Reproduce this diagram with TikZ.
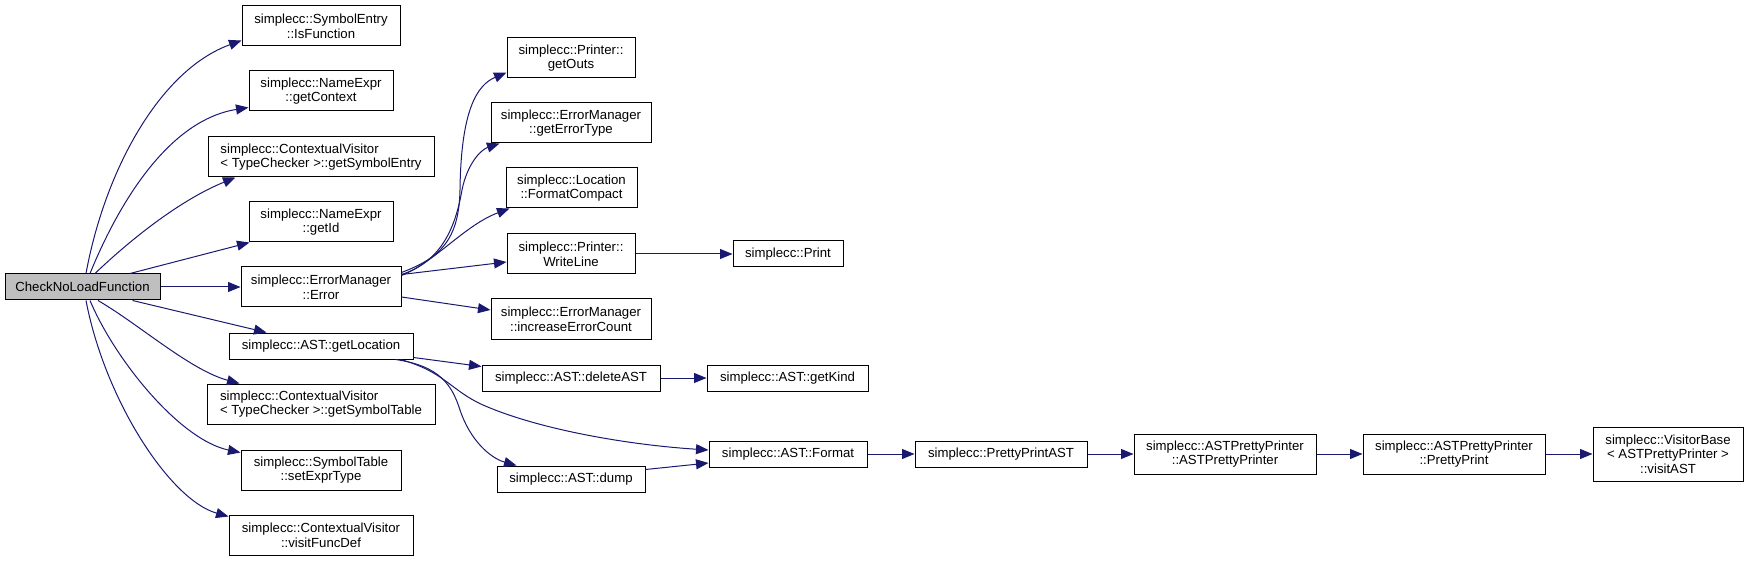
\documentclass[tikz,border=0pt]{standalone}
\usepackage{fontspec}
\setmainfont{Liberation Sans}
\usetikzlibrary{arrows.meta}
\definecolor{edgec}{HTML}{191970}
\definecolor{rootfill}{HTML}{BFBFBF}
\begin{document}
\begin{tikzpicture}[x=1pt,y=-1pt,
  box/.style={draw=black, line width=1pt, fill=white, inner sep=0pt, align=center,
    font=\fontsize{13.2}{14.6}\selectfont},
  lbox/.style={box, align=left},
  call/.style={draw=edgec, line width=1pt, -{Triangle[length=12.5pt,width=10pt]}}
]
\useasboundingbox (0,0) rectangle (1748,561);

% nodes
\node[box, fill=rootfill, minimum width=155pt, minimum height=26pt] (root) at (82.5,287) {CheckNoLoadFunction};
\node[box, minimum width=158pt, minimum height=40pt] (isfn) at (321,26) {simplecc::SymbolEntry\\::IsFunction};
\node[box, minimum width=144pt, minimum height=40pt] (getctx) at (321,91) {simplecc::NameExpr\\::getContext};
\node[lbox, minimum width=226pt, minimum height=40pt] (getse) at (321,157) {simplecc::ContextualVisitor\\< TypeChecker >::getSymbolEntry};
\node[box, minimum width=144pt, minimum height=40pt] (getid) at (321,222) {simplecc::NameExpr\\::getId};
\node[box, minimum width=160pt, minimum height=40pt] (err) at (321,287) {simplecc::ErrorManager\\::Error};
\node[box, minimum width=184pt, minimum height=26pt] (getloc) at (321,346) {simplecc::AST::getLocation};
\node[lbox, minimum width=228pt, minimum height=40pt] (getst) at (321,404) {simplecc::ContextualVisitor\\< TypeChecker >::getSymbolTable};
\node[box, minimum width=160pt, minimum height=40pt] (setet) at (321,470) {simplecc::SymbolTable\\::setExprType};
\node[box, minimum width=184pt, minimum height=40pt] (vfd) at (321,535) {simplecc::ContextualVisitor\\::visitFuncDef};

\node[box, minimum width=128pt, minimum height=40pt] (outs) at (571,58) {simplecc::Printer::\\getOuts};
\node[box, minimum width=160pt, minimum height=40pt] (geterrt) at (571,123) {simplecc::ErrorManager\\::getErrorType};
\node[box, minimum width=131pt, minimum height=40pt] (fmtc) at (571.5,188) {simplecc::Location\\::FormatCompact};
\node[box, minimum width=128pt, minimum height=40pt] (wline) at (571,254) {simplecc::Printer::\\WriteLine};
\node[box, minimum width=160pt, minimum height=40pt] (incerr) at (571,319) {simplecc::ErrorManager\\::increaseErrorCount};
\node[box, minimum width=110pt, minimum height=26pt] (print) at (788,254) {simplecc::Print};
\node[box, minimum width=178pt, minimum height=26pt] (delast) at (571,378) {simplecc::AST::deleteAST};
\node[box, minimum width=161pt, minimum height=26pt] (getkind) at (787.5,378) {simplecc::AST::getKind};
\node[box, minimum width=148pt, minimum height=26pt] (dump) at (571,479) {simplecc::AST::dump};
\node[box, minimum width=158pt, minimum height=26pt] (fmt) at (788,454) {simplecc::AST::Format};
\node[box, minimum width=172pt, minimum height=26pt] (ppast) at (1001,454) {simplecc::PrettyPrintAST};
\node[box, minimum width=182pt, minimum height=40pt] (astpp) at (1225,454) {simplecc::ASTPrettyPrinter\\::ASTPrettyPrinter};
\node[box, minimum width=182pt, minimum height=40pt] (pp) at (1454,454) {simplecc::ASTPrettyPrinter\\::PrettyPrint};
\node[box, minimum width=150pt, minimum height=54pt] (vb) at (1668,454) {simplecc::VisitorBase\\< ASTPrettyPrinter >\\::visitAST};

% edges from root
\draw[call] ([xshift=3.5pt]root.north) .. controls (105,170) and (160,70) .. ([yshift=6pt]isfn.south west);
\draw[call] ([xshift=7.5pt]root.north) .. controls (120,200) and (170,120) .. ([yshift=4pt]getctx.south west);
\draw[call] ([xshift=12.5pt]root.north) .. controls (130,240) and (180,200) .. ([xshift=28pt]getse.south west);
\draw[call] ([xshift=47.5pt]root.north) -- ([xshift=1pt]getid.south west);
\draw[call] (root.east) -- (err.west);
\draw[call] ([xshift=50pt]root.south) -- ([xshift=38pt]getloc.north west);
\draw[call] ([xshift=15.5pt]root.south) .. controls (140,325) and (190,370) .. ([xshift=33pt]getst.north west);
\draw[call] ([xshift=7.5pt]root.south) .. controls (115,360) and (180,440) .. ([yshift=-3pt]setet.north west);
\draw[call] ([xshift=3.5pt]root.south) .. controls (105,400) and (170,500) .. ([yshift=-2pt]vfd.north west);

% edges from Error
\draw[call] ([yshift=-6pt]err.north east) .. controls (440,258) and (459,240) .. (460,190)
  .. controls (461,110) and (477,85) .. ([yshift=6pt]outs.south west);
\draw[call] ([yshift=-8pt]err.north east) .. controls (440,262) and (455,230) .. (462,190)
  .. controls (467,165) and (480,150) .. ([xshift=9pt]geterrt.south west);
\draw[call] ([yshift=-9pt]err.north east) .. controls (435,262) and (465,225) .. ([xshift=4pt]fmtc.south west);
\draw[call] ([yshift=-8pt]err.north east) -- ([yshift=-8pt]wline.west);
\draw[call] ([yshift=-10pt]err.east) -- ([yshift=9pt]incerr.west);
\draw[call] (wline.east) -- (print.west);

% edges from getLocation
\draw[call] ([yshift=2pt]getloc.south east) -- ([yshift=-2pt]delast.north west);
\draw[call] ([xshift=-13pt]getloc.south east) .. controls (445,372) and (450,390) .. (483,405)
  .. controls (540,430) and (630,445) .. ([yshift=4pt]fmt.west);
\draw[call] ([xshift=-18pt]getloc.south east) .. controls (440,366) and (452,385) .. (460,410)
  .. controls (470,440) and (490,458) .. ([xshift=20pt]dump.north west);

\draw[call] (delast.east) -- (getkind.west);
\draw[call] ([yshift=-4pt]dump.north east) -- ([yshift=-9pt]fmt.west);
\draw[call] (fmt.east) -- (ppast.west);
\draw[call] (ppast.east) -- (astpp.west);
\draw[call] (astpp.east) -- (pp.west);
\draw[call] (pp.east) -- (vb.west);
\end{tikzpicture}
\end{document}
